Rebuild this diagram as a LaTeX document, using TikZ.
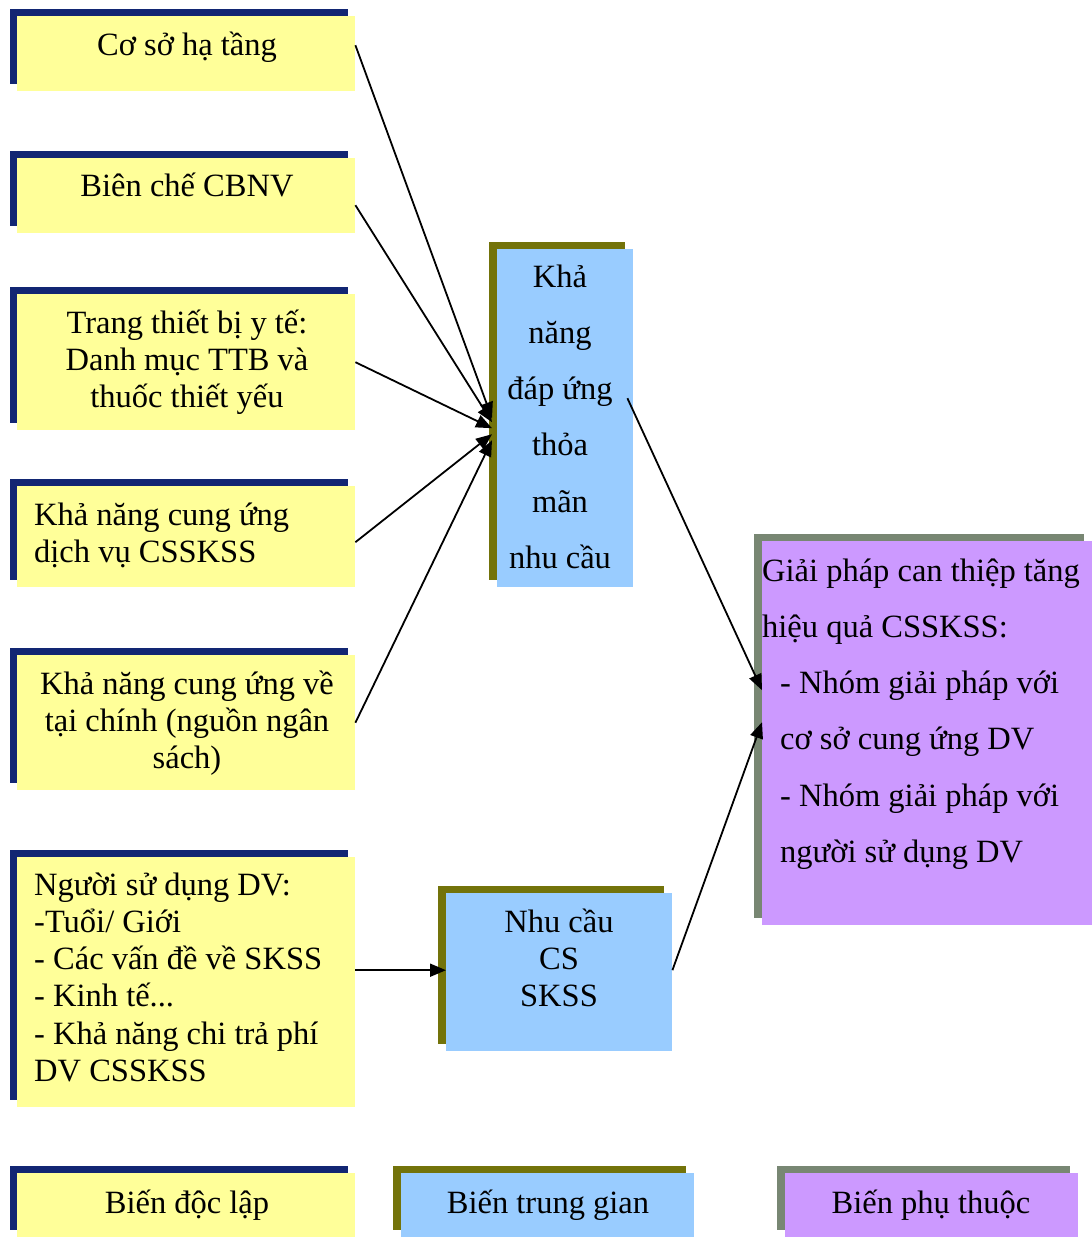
\documentclass[tikz,border=0pt]{standalone}
\usepackage{fontspec}
\setmainfont{Liberation Serif}
\usetikzlibrary{shadows,arrows.meta}
\definecolor{yfill}{HTML}{FFFF99}
\definecolor{bfill}{HTML}{99CCFF}
\definecolor{pfill}{HTML}{CC99FF}
\definecolor{navyS}{RGB}{18,38,115}
\definecolor{oliveS}{RGB}{115,115,10}
\definecolor{greyS}{RGB}{120,135,115}
\newcommand\mylines[2]{\begin{tabular}[t]{@{}#1@{}}#2\end{tabular}}
\tikzset{
  boxbase/.style={draw=none, inner sep=0pt, anchor=north west},
  ybox/.style={boxbase, fill=yfill, minimum width=338pt,
    drop shadow={shadow xshift=-7pt, shadow yshift=7pt, fill=navyS, opacity=1}},
  bbox/.style={boxbase, fill=bfill,
    drop shadow={shadow xshift=-8pt, shadow yshift=7pt, fill=oliveS, opacity=1}},
  pbox/.style={boxbase, fill=pfill,
    drop shadow={shadow xshift=-8pt, shadow yshift=7pt, fill=greyS, opacity=1}},
  txt/.style={inner sep=0pt, anchor=base, font=\fontsize{32.5}{37.3}\selectfont},
  txtw/.style={inner sep=0pt, anchor=base, font=\fontsize{32.5}{56.3}\selectfont},
  arr/.style={-{Triangle[length=16pt,width=13pt]}, line width=1.8pt, black}
}
\begin{document}
\begin{tikzpicture}[x=1pt,y=-1pt]
\useasboundingbox[fill=white] (0,0) rectangle (1092,1237);
% independent variables
\node[ybox, minimum height=75pt] (b1) at (17,16) {};
\node[ybox, minimum height=75pt] (b2) at (17,158) {};
\node[ybox, minimum height=136pt] (b3) at (17,294) {};
\node[ybox, minimum height=101pt] (b4) at (17,486) {};
\node[ybox, minimum height=135pt] (b5) at (17,655) {};
\node[ybox, minimum height=250pt] (b6) at (17,857) {};
\node[ybox, minimum height=64pt] (leg1) at (17,1173) {};
% intermediate
\node[bbox, minimum width=136pt, minimum height=338pt] (m1) at (497,249) {};
\node[bbox, minimum width=226pt, minimum height=158pt] (m2) at (446,893) {};
\node[bbox, minimum width=293pt, minimum height=64pt] (leg2) at (401,1173) {};
% dependent
\node[pbox, minimum width=330pt, minimum height=384pt] (p) at (762,541) {};
\node[pbox, minimum width=293pt, minimum height=64pt] (leg3) at (785,1173) {};
% texts
\node[txt] (t1) at (187,55) {Cơ sở hạ tầng};
\node[txt] (t2) at (187,196) {Biên chế CBNV};
\node[txt] (t3) at (187,333) {\mylines{c}{Trang thiết bị y tế:\\Danh mục TTB và\\thuốc thiết yếu}};
\node[txt, anchor=base west] (t4) at (34,525) {\mylines{l}{Khả năng cung ứng\\dịch vụ CSSKSS}};
\node[txt] (t5) at (187,694) {\mylines{c}{Khả năng cung ứng về\\tại chính (nguồn ngân\\sách)}};
\node[txt, anchor=base west] (t6) at (34,895) {\mylines{l}{Người sử dụng DV:\\-Tuổi/ Giới\\- Các vấn đề về SKSS\\- Kinh tế...\\- Khả năng chi trả phí\\DV CSSKSS}};
\node[txt] (tl1) at (187,1213) {Biến độc lập};
\node[txtw] (tm1) at (560,287) {\mylines{c}{Khả\\năng\\đáp ứng\\thỏa\\mãn\\nhu cầu}};
\node[txt] (tm2) at (559,932) {\mylines{c}{Nhu cầu\\CS\\SKSS}};
\node[txt] (tl2) at (548,1213) {Biến trung gian};
\node[txtw, anchor=base west] (tp) at (762,581) {\mylines{l}{Giải pháp can thiệp tăng\\hiệu quả CSSKSS:\\\hspace*{18pt}- Nhóm giải pháp với\\\hspace*{18pt}cơ sở cung ứng DV\\\hspace*{18pt}- Nhóm giải pháp với\\\hspace*{18pt}người sử dụng DV}};
\node[txt] (tl3) at (931,1213) {Biến phụ thuộc};
% connectors
\draw[arr] ([yshift=8.5pt]b1.east) -- ([xshift=-5pt]m1.west);
\draw[arr] ([yshift=-9.5pt]b2.east) -- ([xshift=-5pt,yshift=-4pt]m1.west);
\draw[arr] (b3.east) -- ([xshift=-5pt,yshift=-10pt]m1.west);
\draw[arr] ([yshift=-5.5pt]b4.east) -- ([xshift=-5pt,yshift=-16pt]m1.west);
\draw[arr] (b5.east) -- ([xshift=-5pt,yshift=-22pt]m1.west);
\draw[arr] ([yshift=12pt]b6.east) -- ([yshift=2pt]m2.west);
\draw[arr] ([xshift=-6pt,yshift=20pt]m1.east) -- ([yshift=43pt]p.west);
\draw[arr] ([yshift=2pt]m2.east) -- ([yshift=11pt]p.west);
\end{tikzpicture}
\end{document}
